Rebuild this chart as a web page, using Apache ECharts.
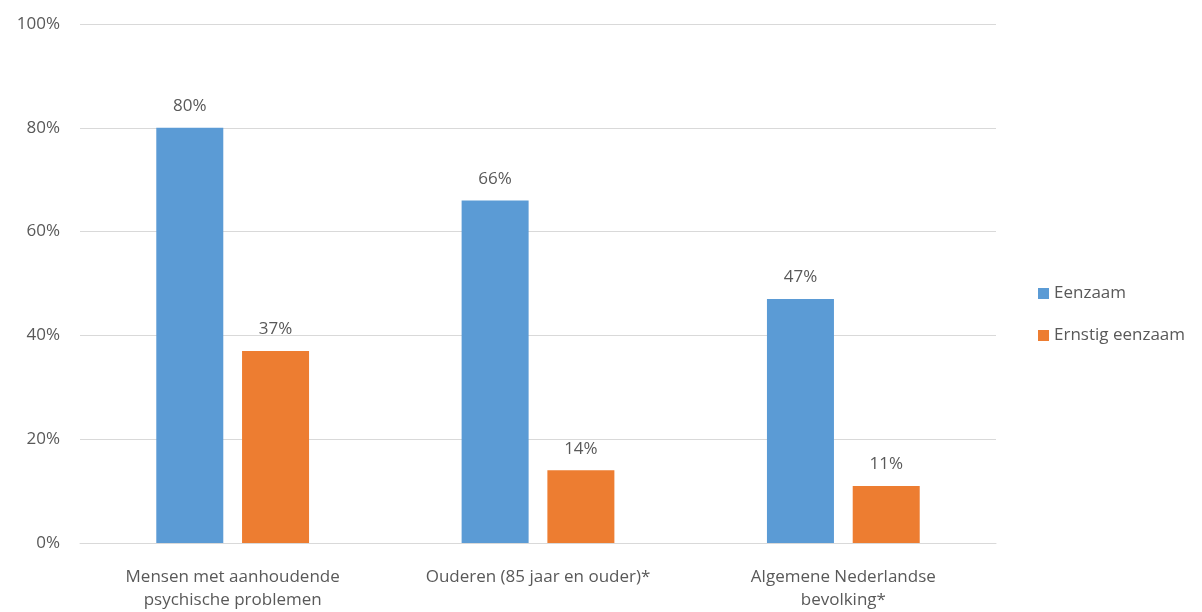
<!DOCTYPE html>
<html>
<head>
<meta charset="utf-8">
<script src="https://cdn.jsdelivr.net/npm/echarts@6/dist/echarts.min.js"></script>
<style>
  html, body { margin: 0; padding: 0; background: #fff; overflow: hidden; }
  #chart { width: 1202px; height: 612px; }
</style>
</head>
<body>
<div id="chart"></div>
<script>
// Groups on the x axis
const categories = [
  'Mensen met aanhoudende\npsychische problemen',
  'Ouderen (85 jaar en ouder)*',
  'Algemene Nederlandse\nbevolking*'
];
// Share of people feeling lonely (percent)
const eenzaam = [80, 66, 47];
const ernstigEenzaam = [37, 14, 11];
const yTicks = [0, 20, 40, 60, 80, 100];

const textColor = '#595959';
const font = '"Open Sans", Lato, sans-serif';
const fontSize = 17;

const chart = echarts.init(document.getElementById('chart'));
chart.setOption({
  animation: false,
  textStyle: { fontFamily: font },
  grid: { left: 80, right: 206, top: 24, bottom: 65 },
  legend: {
    orient: 'vertical',
    left: 1033,
    top: 280,
    itemWidth: 11,
    itemHeight: 11,
    itemGap: 25,
    icon: 'rect',
    textStyle: { color: textColor, fontSize: fontSize, fontFamily: font },
    data: ['Eenzaam', 'Ernstig eenzaam']
  },
  xAxis: {
    type: 'category',
    data: categories,
    axisLine: { lineStyle: { color: '#d9d9d9', width: 1 } },
    axisTick: { show: false },
    axisLabel: {
      color: textColor, fontSize: fontSize, margin: 23, lineHeight: 23,
      interval: 0, fontFamily: font
    }
  },
  yAxis: {
    type: 'value',
    min: yTicks[0],
    max: yTicks[yTicks.length - 1],
    interval: yTicks[1] - yTicks[0],
    axisLine: { show: false },
    axisTick: { show: false },
    splitLine: { lineStyle: { color: '#d9d9d9', width: 1 } },
    axisLabel: {
      color: textColor, fontSize: fontSize, margin: 20, fontFamily: font,
      formatter: v => v + '%'
    }
  },
  series: [
    {
      name: 'Eenzaam',
      type: 'bar',
      data: eenzaam,
      barWidth: 67,
      barGap: '28%',
      itemStyle: { color: '#5B9BD5' },
      label: {
        show: true, position: 'top', distance: 13,
        color: textColor, fontSize: fontSize, fontFamily: font,
        formatter: p => p.value + '%'
      }
    },
    {
      name: 'Ernstig eenzaam',
      type: 'bar',
      data: ernstigEenzaam,
      barWidth: 67,
      barGap: '28%',
      itemStyle: { color: '#ED7D31' },
      label: {
        show: true, position: 'top', distance: 13,
        color: textColor, fontSize: fontSize, fontFamily: font,
        formatter: p => p.value + '%'
      }
    }
  ]
});
</script>
</body>
</html>
